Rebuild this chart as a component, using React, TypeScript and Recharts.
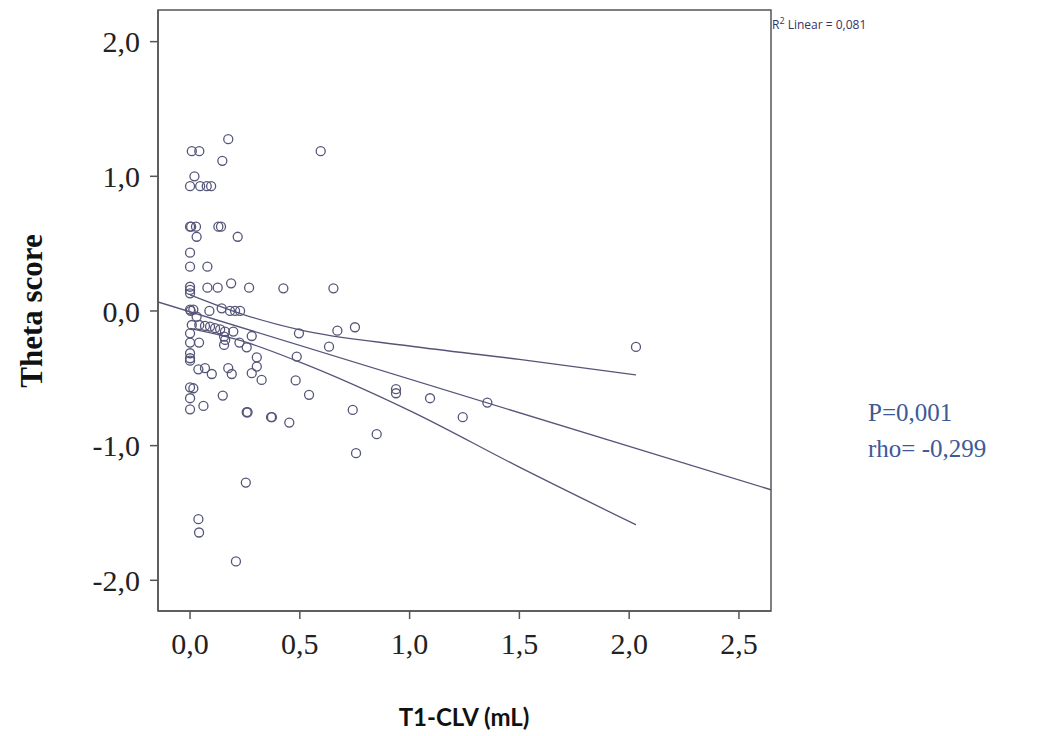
import { ScatterChart, Scatter, XAxis, YAxis, ReferenceArea } from 'recharts';

// T1-CLV (mL) and theta score per subject
const clvValues = [
  0.174, 0.008, 0.042, 0.147, 0.02, 0.0, 0.046, 0.076, 0.096, 0.0,
  0.005, 0.027, 0.129, 0.141, 0.03, 0.217, 0.0, 0.0, 0.079, 0.0,
  0.0, 0.0, 0.079, 0.126, 0.187, 0.269, 0.425, 0.0, 0.003, 0.015,
  0.088, 0.144, 0.182, 0.205, 0.228, 0.03, 0.008, 0.042, 0.068, 0.091,
  0.114, 0.137, 0.159, 0.197, 0.281, 0.0, 0.0, 0.041, 0.155, 0.155,
  0.16, 0.225, 0.258, 0.0, 0.0, 0.0, 0.304, 0.304, 0.281, 0.326,
  0.038, 0.068, 0.099, 0.174, 0.19, 0.0, 0.015, 0.0, 0.0, 0.061,
  0.149, 0.258, 0.262, 0.369, 0.373, 0.452, 0.254, 0.496, 0.486, 0.481,
  0.038, 0.041, 0.209, 0.595, 0.653, 0.671, 0.751, 0.633, 0.542, 0.741,
  0.85, 0.756, 0.938, 0.938, 1.093, 1.242, 1.354, 2.031,
];
const thetaValues = [
  1.276, 1.187, 1.187, 1.115, 1.0, 0.927, 0.927, 0.927, 0.927, 0.626,
  0.626, 0.626, 0.626, 0.626, 0.551, 0.551, 0.433, 0.329, 0.329, 0.18,
  0.156, 0.131, 0.173, 0.173, 0.205, 0.173, 0.168, 0.01, 0.0, 0.01,
  0.0, 0.02, 0.0, 0.0, 0.0, -0.042, -0.104, -0.104, -0.111, -0.116,
  -0.128, -0.136, -0.153, -0.153, -0.186, -0.166, -0.235, -0.235, -0.19, -0.252,
  -0.215, -0.235, -0.27, -0.314, -0.351, -0.369, -0.344, -0.413, -0.462, -0.512,
  -0.433, -0.425, -0.468, -0.425, -0.468, -0.567, -0.574, -0.648, -0.73, -0.705,
  -0.628, -0.752, -0.752, -0.789, -0.789, -0.829, -1.274, -0.166, -0.339, -0.516,
  -1.546, -1.645, -1.86, 1.187, 0.168, -0.146, -0.121, -0.265, -0.623, -0.735,
  -0.915, -1.056, -0.581, -0.611, -0.648, -0.789, -0.68, -0.267,
];

// fit line and 95% CI of the mean
const fitX = [-0.146, 2.646];
const fitY = [0.067, -1.328];
const ciX = [0.0, 0.25, 0.5, 1.0, 1.5, 2.031];
const ciUpper = [0.12, -0.03, -0.14, -0.26, -0.36, -0.475];
const ciLower = [-0.13, -0.23, -0.38, -0.74, -1.16, -1.588];

const xTicks = [0, 0.5, 1, 1.5, 2, 2.5];
const yTicks = [-2, -1, 0, 1, 2];
const X_DOMAIN: [number, number] = [-0.146, 2.646];
const Y_DOMAIN: [number, number] = [-2.228, 2.235];

const INK = '#55557a';
const AXIS = '#555';

const points = clvValues.map((x, i) => ({ x, y: thetaValues[i] }));
const fitLine = fitX.map((x, i) => ({ x, y: fitY[i] }));
const upperLine = ciX.map((x, i) => ({ x, y: ciUpper[i] }));
const lowerLine = ciX.map((x, i) => ({ x, y: ciLower[i] }));

const fmt = (v: number) => v.toFixed(1).replace('.', ',');

const Ring = (props: any) => (
  <circle cx={props.cx} cy={props.cy} r={4.5} fill="none" stroke={INK} strokeWidth={1.3} />
);
const NoDot = () => <g />;

const tickStyle = { fontFamily: '"Liberation Serif", serif', fontSize: 30, fill: '#222' };

export default function App() {
  return (
    <div style={{ position: 'absolute', left: 0, top: 0, width: 1038, height: 736, background: '#fff' }}>
      <ScatterChart
        width={1038}
        height={736}
        margin={{ top: 10, right: 267, bottom: 0, left: 8 }}
      >
        <XAxis
          type="number"
          dataKey="x"
          domain={X_DOMAIN}
          ticks={xTicks}
          tickFormatter={fmt}
          allowDataOverflow
          height={125}
          stroke={AXIS}
          strokeWidth={1.5}
          tickSize={8}
          tickMargin={14}
          tick={tickStyle}
        />
        <YAxis
          type="number"
          dataKey="y"
          domain={Y_DOMAIN}
          ticks={yTicks}
          tickFormatter={fmt}
          allowDataOverflow
          width={150}
          stroke={AXIS}
          strokeWidth={1.5}
          tickSize={8}
          tickMargin={10}
          tick={tickStyle}
        />
        <ReferenceArea
          x1={X_DOMAIN[0]}
          x2={X_DOMAIN[1]}
          y1={Y_DOMAIN[0]}
          y2={Y_DOMAIN[1]}
          fill="none"
          stroke={AXIS}
          strokeWidth={1.5}
          fillOpacity={0}
        />
        <Scatter data={fitLine} line={{ stroke: INK, strokeWidth: 1.3 }} shape={NoDot} isAnimationActive={false} />
        <Scatter data={upperLine} line={{ stroke: INK, strokeWidth: 1.3 }} lineJointType="monotoneX" shape={NoDot} isAnimationActive={false} />
        <Scatter data={lowerLine} line={{ stroke: INK, strokeWidth: 1.3 }} lineJointType="monotoneX" shape={NoDot} isAnimationActive={false} />
        <Scatter data={points} shape={Ring} isAnimationActive={false} />
      </ScatterChart>

      <div
        style={{
          position: 'absolute', left: 32, top: 311, transform: 'translate(-50%, -50%) rotate(-90deg)',
          fontFamily: '"Liberation Serif", serif', fontWeight: 'bold', fontSize: 31, color: '#111', whiteSpace: 'nowrap',
        }}
      >
        Theta score
      </div>
      <div
        style={{
          position: 'absolute', left: 464, top: 716, transform: 'translate(-50%, -50%)',
          fontFamily: 'Lato, sans-serif', fontWeight: 'bold', fontSize: 24, color: '#111', whiteSpace: 'nowrap',
        }}
      >
        T1-CLV (mL)
      </div>
      <div
        style={{
          position: 'absolute', left: 772, top: 14, fontFamily: '"Open Sans", sans-serif',
          fontSize: 12, color: '#333366', whiteSpace: 'nowrap',
        }}
      >
        R<sup style={{ fontSize: 9 }}>2</sup> Linear = 0,081
      </div>
      <div
        style={{
          position: 'absolute', left: 868, top: 395, fontFamily: '"Liberation Serif", serif',
          fontSize: 25, color: '#3d5a96', lineHeight: '36px', whiteSpace: 'nowrap',
        }}
      >
        P=0,001
        <br />
        rho= -0,299
      </div>
    </div>
  );
}
